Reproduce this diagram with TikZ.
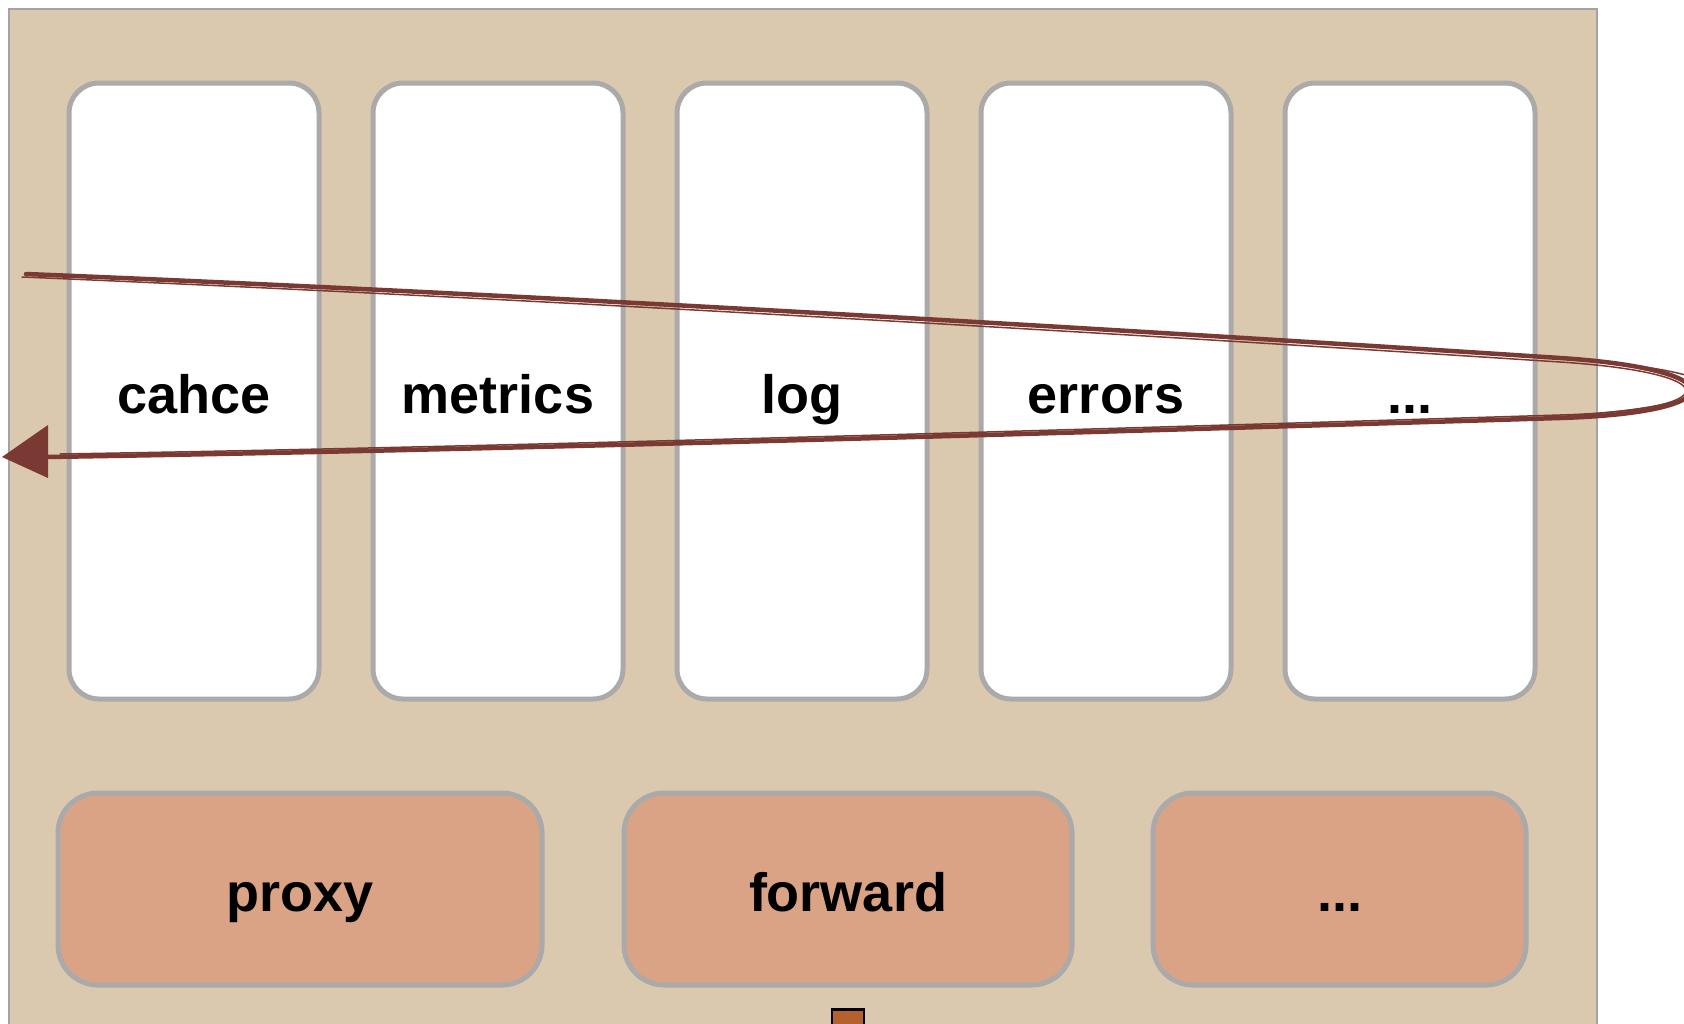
\documentclass[tikz,border=0pt]{standalone}
\usepackage{fontspec}
\setmainfont{Liberation Sans}
\definecolor{panel}{HTML}{DBC9AF}
\definecolor{edge}{HTML}{AAAAAA}
\definecolor{frame}{HTML}{A3A3A3}
\definecolor{plugin}{HTML}{DBA385}
\definecolor{sweepred}{HTML}{7A3A33}
\definecolor{port}{HTML}{B5612E}
\tikzset{
  stage/.style={draw=edge, line width=5pt, fill=white, rounded corners=30pt,
    minimum width=250pt, minimum height=616pt, inner sep=0pt},
  handler/.style={draw=edge, line width=5pt, fill=plugin, rounded corners=40pt,
    inner sep=0pt, minimum height=192pt},
  caption/.style={anchor=base, inner sep=0pt, font=\fontsize{54}{60}\selectfont\bfseries},
  sweep/.style={draw=sweepred, line width=4.5pt, line cap=round},
  sketch/.style={draw=sweepred, line width=1.5pt, line cap=round},
}
\begin{document}
\begin{tikzpicture}[x=1pt, y=-1pt]
  \useasboundingbox (0,0) rectangle (1684,1023);
  \clip (0,0) rectangle (1684,1023);
  % container panel
  \draw[draw=frame, line width=2.5pt, fill=panel] (9,9) rectangle (1597,1060);

  % middleware stages
  \foreach \n/\x/\t in {s1/194/cahce, s2/498/metrics, s3/802/log, s4/1106/errors} {
    \node[stage] (\n) at (\x,391) {};
    \node[caption] (\n t) at ([yshift=-22pt]\n.center) {\t};
  }
  \node[stage] (s5) at (1410,391) {};
  \node[caption] (s5t) at ([yshift=-22pt]s5.center) {...};

  % handlers
  \node[handler, minimum width=484pt] (h1) at (300,889) {};
  \node[handler, minimum width=448pt] (h2) at (848,889) {};
  \node[handler, minimum width=373pt] (h3) at (1339.5,889) {};
  \node[caption] (h1t) at ([yshift=-22pt]h1.center) {proxy};
  \node[caption] (h2t) at ([yshift=-22pt]h2.center) {forward};
  \node[caption] (h3t) at ([yshift=-22pt]h3.center) {...};

  % output port
  \node[draw=black, line width=2.5pt, fill=port, minimum width=32pt,
    minimum height=40pt, inner sep=0pt, anchor=north] (p) at (848,1008) {};

  % request/response sweep through the stages
  \coordinate (in) at (26,274);
  \coordinate (turnA) at (1560,358);
  \coordinate (turnB) at (1560,418);
  \coordinate (out) at (46,457);
  \draw[sweep] (in) .. controls (500,293) and (1100,328) .. (turnA)
    .. controls (1735,369.4) and (1735,412.7) .. (turnB)
    .. controls (1100,432) and (500,450) .. (out);
  % loose pencil strokes along the sweep
  \draw[sketch] (22,277) .. controls (500,297) and (1100,332) .. (1560,362)
    .. controls (1728,373) and (1728,410) .. (1560,415);
  \draw[sketch] (1480,352) .. controls (1650,362) and (1745,378) .. (1690,398)
    .. controls (1650,410) and (1600,414) .. (1500,421);
  \draw[sketch] (1560,415) .. controls (1100,429) and (500,447) .. (60,454);
  \fill[sweepred] (2,457) -- (48,425) -- (48,478) -- cycle;
\end{tikzpicture}
\end{document}
